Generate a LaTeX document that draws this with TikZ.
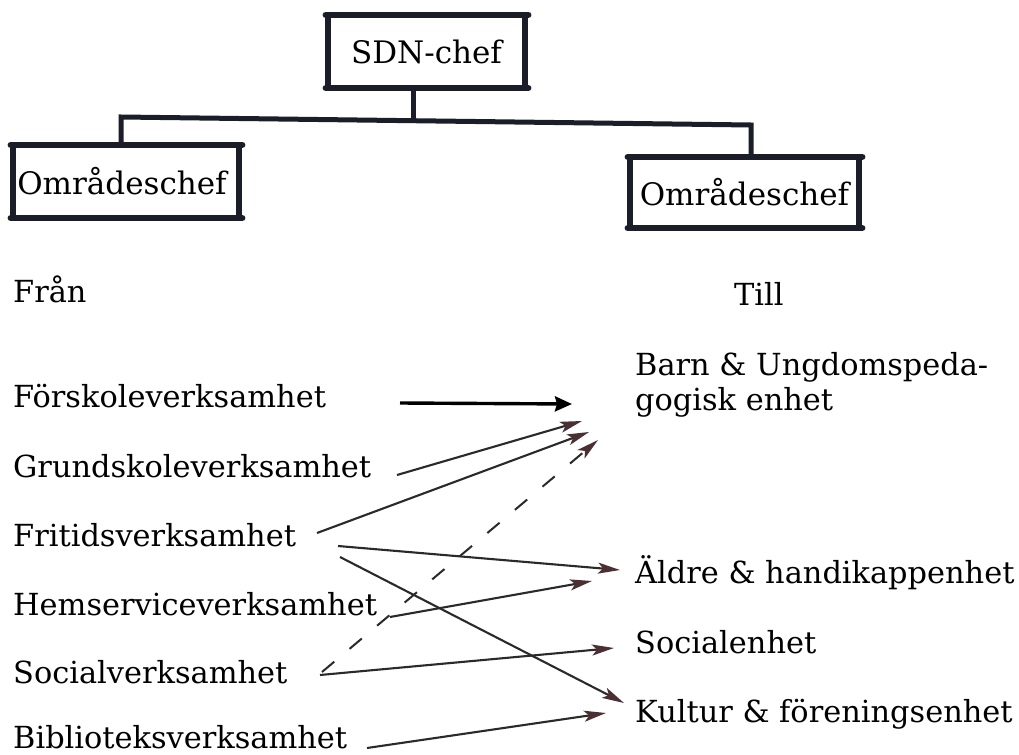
\documentclass[tikz,border=0pt]{standalone}
\usepackage{fontspec}
\setmainfont{DejaVu Serif}
\usetikzlibrary{arrows.meta,calc}
\definecolor{ink}{HTML}{1B1E28}
\definecolor{shaft}{HTML}{2A2A2A}
\definecolor{head}{HTML}{4A3032}
\begin{document}
\begin{tikzpicture}[x=1bp,y=-1bp,
  boxline/.style={line width=6.5bp,ink,line cap=round},
  orgline/.style={line width=5bp,ink,line cap=round},
  box/.style={inner sep=0pt,font=\fontsize{31bp}{36bp}\selectfont},
  lbl/.style={inner sep=0pt,anchor=base west,font=\fontsize{30.4bp}{35bp}\selectfont,align=left},
  arr/.style={line width=2.1bp,shaft,-{Stealth[length=22bp,width=11bp,inset=5bp,fill=head,color=head]}},
  arrthick/.style={line width=3.4bp,black,-{Stealth[length=17bp,width=15bp,inset=2bp]}},
  dashedarr/.style={line width=2bp,shaft,dash pattern=on 16bp off 20bp,-{Stealth[length=22bp,width=11bp,inset=5bp,fill=head,color=head]}}
]
\useasboundingbox[fill=white] (0,0) rectangle (1019,755);

% org chart boxes
\node[box,minimum width=197bp,minimum height=73bp] (sdn) at (426.5,51.5) {SDN-chef};
\node[box,minimum width=226bp,minimum height=73bp] (oml) at (126,181.5) {\hspace*{-8bp}\raisebox{-8bp}{Områdeschef}};
\node[box,minimum width=229bp,minimum height=71bp] (omr) at (744.5,192.5) {Områdeschef};

\foreach \b in {sdn,oml,omr}{
  \draw[boxline] ([xshift=-2bp]\b.north west) -- ([xshift=3bp]\b.north east);
  \draw[boxline] ([xshift=-2bp]\b.south west) -- ([xshift=3bp]\b.south east);
  \draw[boxline] ([yshift=-2bp]\b.north west) -- ([yshift=2bp]\b.south west);
  \draw[boxline] ([yshift=-2bp]\b.north east) -- ([yshift=2bp]\b.south east);
}

\coordinate (jm) at (413,120.5);
\coordinate (jl) at (121,117);
\coordinate (jr) at (751,125);
\draw[orgline] (sdn.south -| jm) -- (jm);
\draw[orgline] (oml.north -| jl) -- (jl) -- (jr) -- (omr.north -| jr);

% column headers
\node[lbl] (fran) at (13,302) {Från};
\node[lbl] (till) at (734,305) {Till};

% left column
\node[lbl] (fors) at (13,407) {Förskoleverksamhet};
\node[lbl] (grund) at (13,477) {Grundskoleverksamhet};
\node[lbl] (frit) at (13,546) {Fritidsverksamhet};
\node[lbl] (hems) at (13,615) {Hemserviceverksamhet};
\node[lbl] (soc) at (13,683) {Socialverksamhet};
\node[lbl] (bibl) at (13,748) {Biblioteksverksamhet};

% right column
\node[lbl] (barn) at (635,410) {Barn \& Ungdomspeda-\\gogisk enhet};
\node[lbl] (aldre) at (635,583) {Äldre \& handikappenhet};
\node[lbl] (socenh) at (635,653) {Socialenhet};
\node[lbl] (kult) at (635,722) {Kultur \& föreningsenhet};

% connector ports
\coordinate (fors-o) at (400,403);
\coordinate (grund-o) at (397,475);
\coordinate (frit-o1) at (317,533);
\coordinate (frit-o2) at (338,546);
\coordinate (frit-o3) at (340,557);
\coordinate (hems-o) at (390,617);
\coordinate (soc-o1) at (322,672);
\coordinate (soc-o2) at (320,675);
\coordinate (bibl-o) at (367,748);
\coordinate (barn-i1) at (572,404);
\coordinate (barn-i2) at (582,421);
\coordinate (barn-i3) at (589,432);
\coordinate (barn-i4) at (598,440);
\coordinate (aldre-i1) at (620,570);
\coordinate (aldre-i2) at (592,581);
\coordinate (socenh-i) at (614,648);
\coordinate (kult-i1) at (624,703);
\coordinate (kult-i2) at (606,713);

\draw[arrthick] (fors-o) -- (barn-i1);
\draw[arr] (grund-o) -- (barn-i2);
\draw[arr] (frit-o1) -- (barn-i3);
\draw[dashedarr] (soc-o1) -- (barn-i4);
\draw[arr] (frit-o2) -- (aldre-i1);
\draw[arr] (frit-o3) -- (kult-i1);
\draw[arr] (hems-o) -- (aldre-i2);
\draw[arr] (soc-o2) -- (socenh-i);
\draw[arr] (bibl-o) -- (kult-i2);
\end{tikzpicture}
\end{document}
